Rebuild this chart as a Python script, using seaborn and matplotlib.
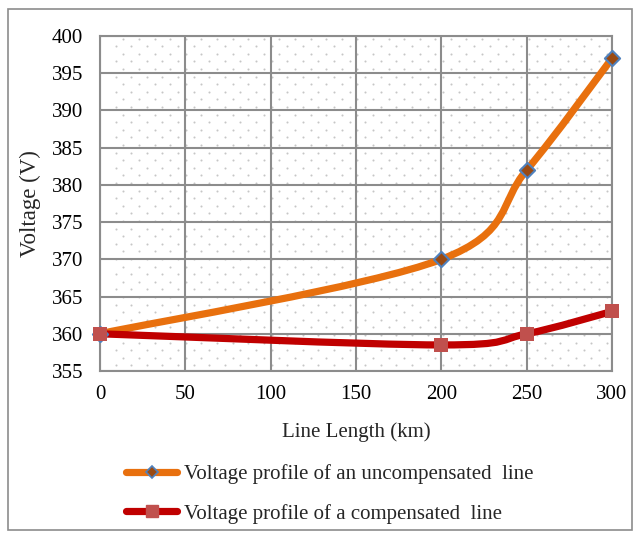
import numpy as np
import pandas as pd
import seaborn as sns
import matplotlib
matplotlib.use("Agg")
import matplotlib.pyplot as plt
from matplotlib.path import Path
from matplotlib.patches import PathPatch, Rectangle
from matplotlib.lines import Line2D

# Data
length_km = [0, 200, 250, 300]
v_uncompensated = [360, 370, 382, 397]
v_compensated = [360, 358.5, 360, 363]
x_ticks = [0, 50, 100, 150, 200, 250, 300]
y_ticks = [355, 360, 365, 370, 375, 380, 385, 390, 395, 400]
label_unc = "Voltage profile of an uncompensated  line"
label_comp = "Voltage profile of a compensated  line"

sns.set_theme(style="white")
plt.rcParams["font.family"] = ["Liberation Serif", "DejaVu Serif"]

ORANGE = "#E8700E"
RED = "#C00000"
GRID = "#8C8C8C"
LW = 5.2

W, H = 641, 538
AX_L, AX_R, AX_T, AX_B = 100, 612, 36, 371


def smooth_path(xs, ys):
    """Cubic Bezier path through the points (spreadsheet-style smoothing)."""
    pts = np.column_stack([xs, ys]).astype(float)
    n = len(pts)
    verts = [pts[0]]
    codes = [Path.MOVETO]
    for i in range(n - 1):
        p0 = pts[i - 1] if i > 0 else pts[i]
        p1 = pts[i]
        p2 = pts[i + 1]
        p3 = pts[i + 2] if i + 2 < n else pts[i + 1]
        c1 = p1 + (p2 - p0) / 6.0
        c2 = p2 - (p3 - p1) / 6.0
        verts += [c1, c2, p2]
        codes += [Path.CURVE4] * 3
    return Path(verts, codes)


df = pd.DataFrame({
    "length": length_km * 2,
    "voltage": v_uncompensated + v_compensated,
    "series": [label_unc] * 4 + [label_comp] * 4,
})

fig = plt.figure(figsize=(W / 100, H / 100), dpi=100)
ax_w, ax_h = AX_R - AX_L, AX_B - AX_T
ax = fig.add_axes([AX_L / W, 1 - AX_B / H, ax_w / W, ax_h / H])

# staggered dot texture of the plot area (axes-fraction positions)
col_step, row_step = 15.6 / ax_w, 7.6 / ax_h
dots = []
for r, yy in enumerate(np.arange(1 - 2.7 / ax_h, 0, -row_step)):
    x0 = (23.3 if r % 2 == 0 else 15.5) / ax_w
    for xx in np.arange(x0, 1, col_step):
        dots.append((xx, yy))
dots = np.array(dots)
ax.scatter(dots[:, 0], dots[:, 1], s=2.2, color="#C6C6C6", linewidths=0,
           transform=ax.transAxes, zorder=0.5)

for ys, col in [(v_uncompensated, ORANGE), (v_compensated, RED)]:
    ax.add_patch(PathPatch(smooth_path(length_km, ys), facecolor="none",
                           edgecolor=col, linewidth=LW, capstyle="round",
                           joinstyle="round", zorder=3, clip_on=False))

unc = df[df.series == label_unc]
comp = df[df.series == label_comp]
sns.scatterplot(data=unc, x="length", y="voltage", marker="D", s=60,
                color="#9A4A12", edgecolor="#4F81BD", linewidth=1.5,
                ax=ax, zorder=4, legend=False, clip_on=False)
sns.scatterplot(data=comp, x="length", y="voltage", marker="s", s=100,
                color="#C0504D", edgecolor="#C0504D", linewidth=0,
                ax=ax, zorder=5, legend=False, clip_on=False)

ax.set_xlim(0, 300)
ax.set_ylim(355, 400)
ax.set_xticks(x_ticks)
ax.set_yticks(y_ticks)
ax.grid(True, color=GRID, linewidth=1.5)
ax.set_axisbelow(True)
for s in ax.spines.values():
    s.set_color(GRID)
    s.set_linewidth(1.5)
ax.tick_params(axis="both", length=0, labelsize=15, colors="black")
ax.tick_params(axis="x", pad=10)
ax.tick_params(axis="y", pad=12)
ax.set_xlabel("Line Length (km)", fontsize=15, labelpad=13)
ax.set_ylabel("Voltage (V)", fontsize=16.5, labelpad=8)

handles = [
    Line2D([], [], color=ORANGE, linewidth=LW, marker="D", markersize=6,
           markerfacecolor="#9A4A12", markeredgecolor="#4F81BD",
           markeredgewidth=1.2, solid_capstyle="round"),
    Line2D([], [], color=RED, linewidth=LW, marker="s", markersize=9,
           markerfacecolor="#C0504D", markeredgecolor="#C0504D",
           solid_capstyle="round"),
]
fig.legend(handles, [label_unc, label_comp], loc="upper left",
           bbox_to_anchor=(126 / W, 1 - 464 / H), frameon=False,
           fontsize=15, handlelength=2.45, handletextpad=0.33,
           labelspacing=0.95, borderaxespad=0, borderpad=0)

fig.patches.append(Rectangle((8 / W, 8 / H), 624 / W, 521 / H,
                             transform=fig.transFigure, fill=False,
                             edgecolor="#8C8C8C", linewidth=1.2))

fig.savefig("out.png", dpi=100)
